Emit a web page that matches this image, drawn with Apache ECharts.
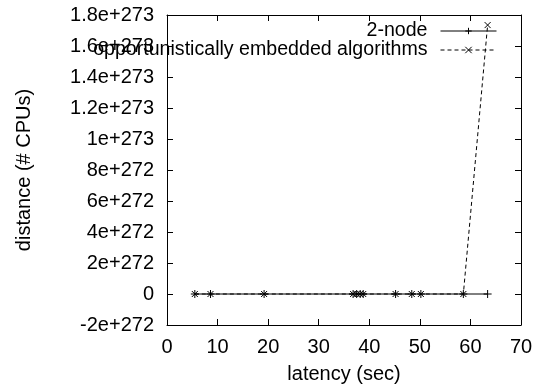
<!DOCTYPE html>
<html>
<head>
<meta charset="utf-8">
<script src="https://cdn.jsdelivr.net/npm/echarts@6/dist/echarts.min.js"></script>
<style>
  html, body { margin: 0; padding: 0; background: #fff; }
  #chart { width: 536px; height: 391px; }
</style>
</head>
<body>
<div id="chart"></div>
<script>
// latency (sec) of each run
const latency = [5.5, 8.6, 19.2, 36.8, 37.5, 38.2, 38.8, 45.2, 48.4, 50.2, 58.6, 63.4]
// distance (# CPUs)
const twoNode = [0, 0, 0, 0, 0, 0, 0, 0, 0, 0, 0, 0]
const opportunistic = [0, 0, 0, 0, 0, 0, 0, 0, 0, 0, 0, 1.735e273]
const seriesNames = ['2-node', 'opportunistically embedded algorithms']

const FONT = 'Liberation Sans, Arial, sans-serif'
const FS = 20
const PLUS = 'path://M0,5L10,5M5,0L5,10'
const CROSS = 'path://M0,0L10,10M10,0L0,10'

function fmtY(v) {
  if (v === 0) return '0'
  return Number(v.toPrecision(3)).toExponential()
}

function pairs(xs, ys) {
  return xs.map((x, i) => [x, ys[i]])
}

const chart = echarts.init(document.getElementById('chart'))

const xBase = {
  type: 'value', min: 0, max: 70, interval: 10,
  splitLine: { show: false },
  axisLine: { show: true, onZero: false, lineStyle: { color: '#000', width: 1 } },
  axisTick: { show: true, inside: true, length: 6, lineStyle: { color: '#000' } }
}
const yBase = {
  type: 'value', min: -2e272, max: 1.8e273, interval: 2e272,
  splitLine: { show: false },
  axisLine: { show: true, onZero: false, lineStyle: { color: '#000', width: 1 } },
  axisTick: { show: true, inside: true, length: 6, lineStyle: { color: '#000' } }
}

const legendCommon = {
  orient: 'horizontal',
  align: 'right',
  itemWidth: 56,
  itemHeight: 8,
  padding: 0,
  lineStyle: { width: 1 },
  itemStyle: { borderWidth: 1 },
  textStyle: { fontFamily: FONT, fontSize: 19.6, color: '#000', padding: [0, 8, 0, 0] }
}

chart.setOption({
  animation: false,
  backgroundColor: '#fff',
  grid: { left: 167, right: 15, top: 15, bottom: 66 },
  legend: [
    Object.assign({ data: [seriesNames[0]], right: 39, top: 21 }, legendCommon),
    Object.assign({ data: [seriesNames[1]], right: 39, top: 40 }, legendCommon)
  ],
  xAxis: [
    Object.assign({}, xBase, {
      position: 'bottom',
      name: 'latency (sec)',
      nameLocation: 'middle',
      nameGap: 39,
      nameTextStyle: { fontFamily: FONT, fontSize: FS, color: '#000' },
      axisLabel: { margin: 12, fontFamily: FONT, fontSize: FS, color: '#000' }
    }),
    Object.assign({}, xBase, { position: 'top', axisLabel: { show: false } })
  ],
  yAxis: [
    Object.assign({}, yBase, {
      position: 'left',
      name: 'distance (# CPUs)',
      nameLocation: 'middle',
      nameGap: 133,
      nameTextStyle: { fontFamily: FONT, fontSize: FS, color: '#000' },
      axisLabel: { margin: 13, fontFamily: FONT, fontSize: FS, color: '#000', formatter: fmtY }
    }),
    Object.assign({}, yBase, { position: 'right', axisLabel: { show: false } })
  ],
  series: [
    {
      name: seriesNames[0],
      type: 'line',
      data: pairs(latency, twoNode),
      symbol: PLUS,
      symbolSize: 8,
      showSymbol: true,
      lineStyle: { color: '#000', width: 1 },
      itemStyle: { color: '#000', borderColor: '#000', borderWidth: 1 }
    },
    {
      name: seriesNames[1],
      type: 'line',
      data: pairs(latency, opportunistic),
      symbol: CROSS,
      symbolSize: 6,
      showSymbol: true,
      lineStyle: { color: '#000', width: 1, type: [4, 3] },
      itemStyle: { color: '#000', borderColor: '#000', borderWidth: 1 }
    }
  ]
})
</script>
</body>
</html>
